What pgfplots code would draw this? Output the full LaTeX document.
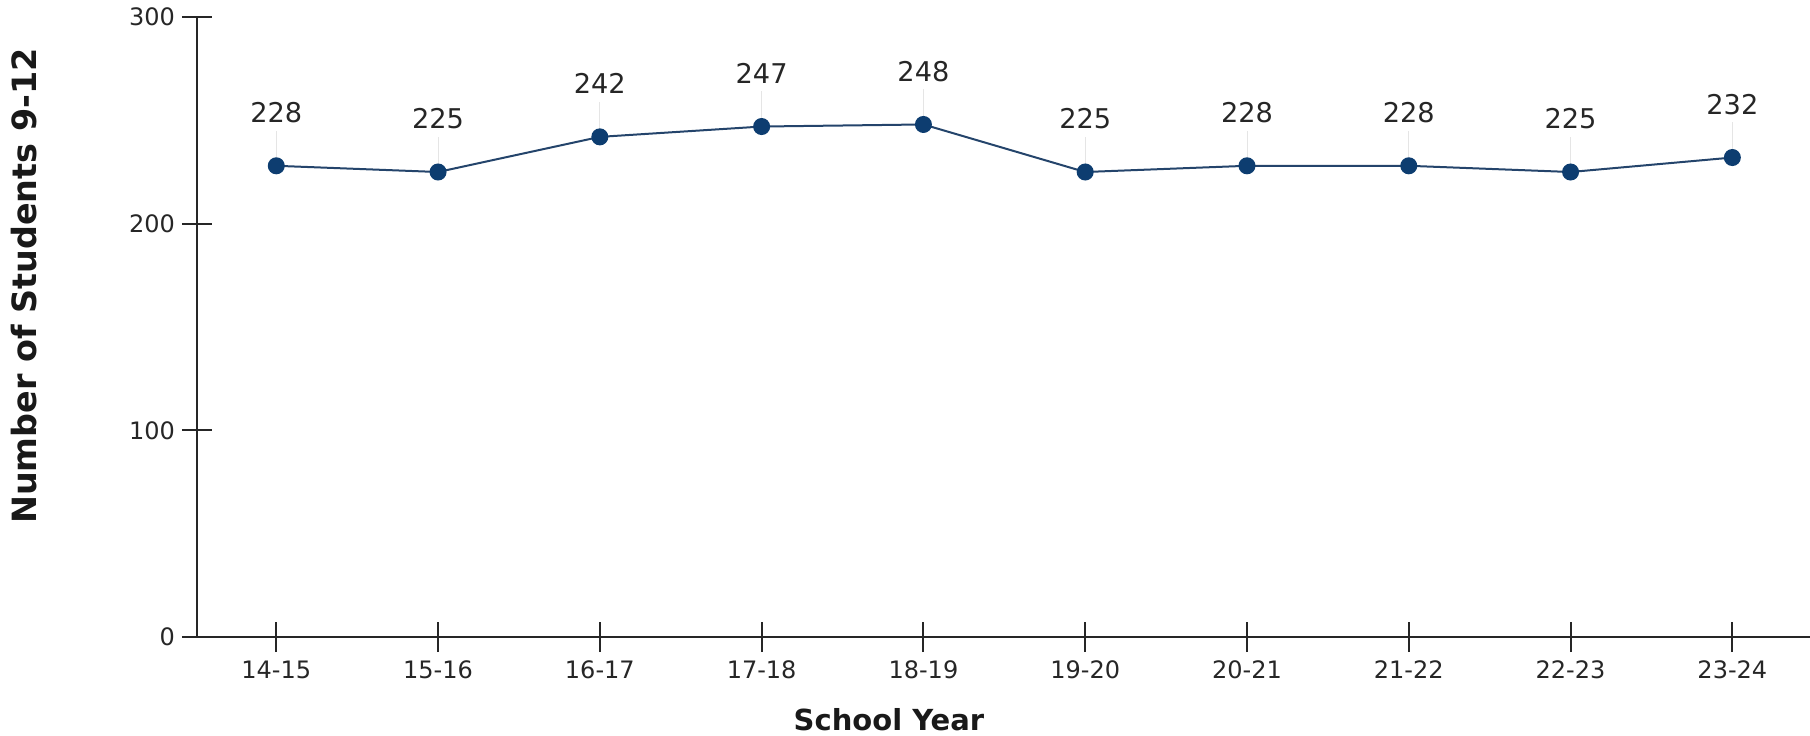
\documentclass[border=0pt]{standalone}
\usepackage{fontspec}
\setmainfont{DejaVu Sans}
\usepackage{pgfplots}
\pgfplotsset{compat=1.18}
\definecolor{navy}{HTML}{0D3D70}
\definecolor{navyline}{HTML}{24446B}
\begin{document}
\begin{tikzpicture}
\begin{axis}[
  scale only axis,
  width=806.5pt, height=310pt,
  at={(0,0)}, anchor=south west,
  axis lines=left,
  axis line style={-, line width=1.2pt, black!85},
  xmin=-0.49, xmax=9.48,
  ymin=0, ymax=300,
  ytick={0,100,200,300},
  xtick=data,
  xticklabels={14-15,15-16,16-17,17-18,18-19,19-20,20-21,21-22,22-23,23-24},
  tick align=center,
  major tick length=15pt,
  tick style={line width=1pt, black!85},
  /pgf/number format/assume math mode=true,
  ticklabel style={font=\fontsize{12}{14}\selectfont, black!85},
  xticklabel style={yshift=-1pt},
  xlabel={School Year},
  ylabel={Number of Students 9-12},
  xlabel style={at={(axis description cs:0.429,-0.134)}, anchor=center,
    font=\fontsize{14.5}{17}\selectfont\bfseries, black!90},
  ylabel style={at={(axis description cs:-0.1073,0.566)}, anchor=center,
    font=\fontsize{16.7}{19}\selectfont\bfseries, black!90},
  clip=false,
]
% faint leader lines from each point up to its label
\addplot[draw=none, mark=none,
  error bars/.cd, y dir=plus, y fixed=17,
  error mark=none,
  error bar style={line width=0.5pt, gray!20}]
  coordinates {(0,228) (1,225) (2,242) (3,247) (4,248) (5,225) (6,228) (7,228) (8,225) (9,232)};
\addplot[navyline, line width=1pt, mark=*, mark size=3.75pt,
  mark options={fill=navy, draw=navy},
  nodes near coords,
  nodes near coords style={anchor=south, inner sep=0pt, yshift=21pt,
    font=\fontsize{13.6}{16}\selectfont, black!85}]
  coordinates {(0,228) (1,225) (2,242) (3,247) (4,248) (5,225) (6,228) (7,228) (8,225) (9,232)};
\end{axis}
\pgfresetboundingbox
\path[use as bounding box] (-98.5pt,-49pt) rectangle (806.5pt,318.5pt);
\end{tikzpicture}
\end{document}
